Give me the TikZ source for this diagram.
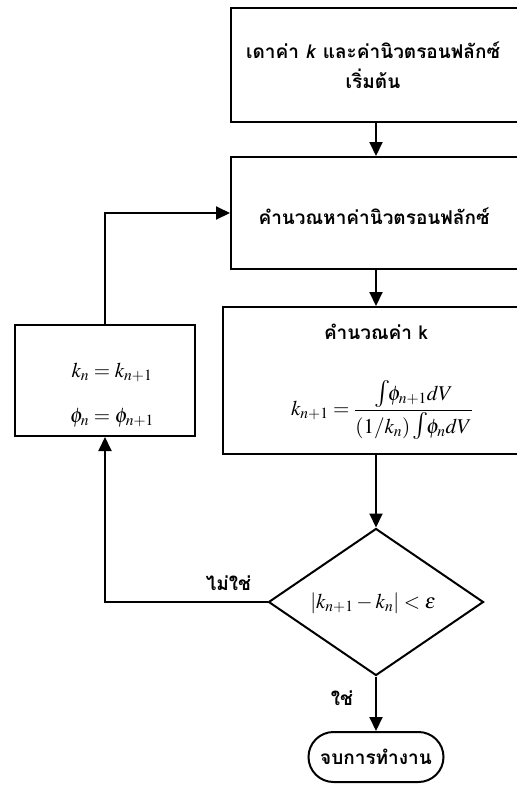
\documentclass[tikz,border=0pt]{standalone}
\usepackage{mathptmx}
\usepackage[no-math]{fontspec}
\newfontfamily\thaifont[Script=Thai]{Loma}
\usetikzlibrary{positioning, arrows.meta, shapes.geometric, shapes.misc}
\newcommand{\fluxint}{\mbox{\fontsize{27}{27}\selectfont$\int$}\!}

\begin{document}
\begin{tikzpicture}[
    x=1pt, y=-1pt,
    block/.style={draw, rectangle, line width=2pt, inner sep=0pt},
    thai/.style={font=\thaifont\bfseries\fontsize{19}{30}\selectfont, align=center, inner sep=0pt},
    eq/.style={font=\fontsize{21}{24}\selectfont, inner sep=0pt},
    decision/.style={draw, diamond, line width=2pt, inner sep=0pt, minimum width=215pt, minimum height=147pt},
    terminal/.style={draw, rounded rectangle, line width=2pt, minimum width=135pt, minimum height=50pt, inner sep=0pt},
    arrow/.style={-{Triangle[length=14pt, width=13pt]}, line width=2pt},
]
\clip (0,0) rectangle (517,785);

% Initial guess
\node[block, minimum width=290pt, minimum height=114pt] (guess) at (376,65) {};
\node[thai] (guesstext) at (373,65) {เดาค่า \textit{k} และค่านิวตรอนฟลักซ์\\เริ่มต้น};

% Flux calculation
\node[block, minimum width=290pt, minimum height=112pt] (flux) at (376,213) {};
\node[thai] (fluxtext) at (374,216) {คำนวณหาค่านิวตรอนฟลักซ์};

% k calculation
\node[block, minimum width=306pt, minimum height=147pt] (calck) at (376,380.5) {};
\node[thai] (calcktitle) at (376,332) {คำนวณค่า k};
\node[eq] (calckeq) at (382,410) {$\displaystyle k_{n+1}=\frac{\fluxint\phi_{n+1}dV}{\left(1/k_n\right)\fluxint\phi_n dV}$};

% Update
\node[block, minimum width=180pt, minimum height=111pt] (update) at (105,380.5) {};
\node[eq] (updk) at (112,372) {$k_n=k_{n+1}$};
\node[eq] (updphi) at (112,418) {$\phi_n=\phi_{n+1}$};

% Convergence check
\node[decision] (check) at (376,602) {};
\node[eq] (checktext) at (373,603) {$\left|k_{n+1}-k_n\right|<\varepsilon$};

% Stop
\node[terminal] (stop) at (376,757) {};
\node[thai] (stoptext) at (376,757) {จบการทำงาน};

% Connections
\draw[arrow] (guess) -- (flux);
\draw[arrow] (flux) -- (calck);
\draw[arrow] (calck) -- (check);
\draw[arrow] (check.south) -- node[thai, pos=0.39, left=22pt] {ใช่} (stop.north);
\draw[arrow] (check.west) -| node[thai, pos=0.12, above=10pt] {ไม่ใช่} (update.south);
\draw[arrow] (update.north) |- (flux.west);

\end{tikzpicture}
\end{document}
